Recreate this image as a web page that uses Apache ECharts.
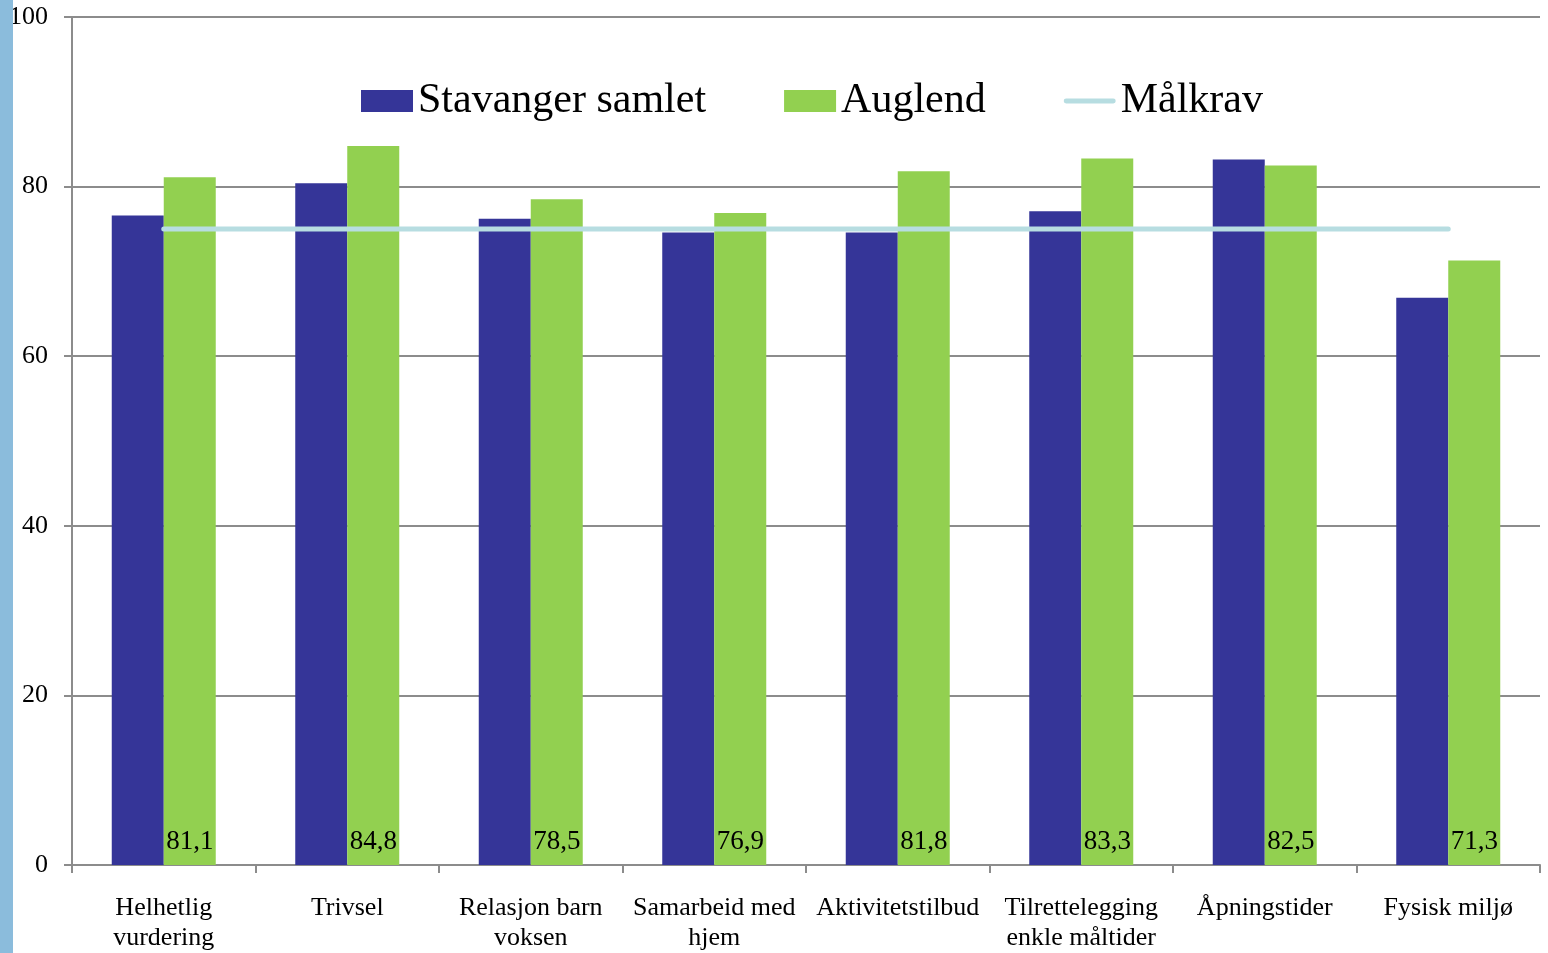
<!DOCTYPE html>
<html>
<head>
<meta charset="utf-8">
<script src="https://cdn.jsdelivr.net/npm/echarts@6/dist/echarts.min.js"></script>
<style>
html,body{margin:0;padding:0;background:#fff;}
#chart{width:1548px;height:953px;}
</style>
</head>
<body>
<div id="chart"></div>
<script>
const categories = ["Helhetlig\nvurdering", "Trivsel", "Relasjon barn\nvoksen", "Samarbeid med\nhjem", "Aktivitetstilbud", "Tilrettelegging\nenkle måltider", "Åpningstider", "Fysisk miljø"];
const stavanger = [76.6, 80.4, 76.2, 74.6, 74.6, 77.1, 83.2, 66.9];
const auglend = [81.1, 84.8, 78.5, 76.9, 81.8, 83.3, 82.5, 71.3];
const malkrav = [75, 75, 75, 75, 75, 75, 75, 75];
const yTicks = { min: 0, max: 100, interval: 20 };

const FONT = '"Liberation Serif", "Times New Roman", serif';
const chart = echarts.init(document.getElementById('chart'), null, { renderer: 'canvas' });
chart.setOption({
  animation: false,
  backgroundColor: '#ffffff',
  textStyle: { fontFamily: FONT },
  graphic: [{
    type: 'rect', left: 0, top: 0, z: 100,
    shape: { x: 0, y: 0, width: 13, height: 953 },
    style: { fill: '#8bbcdc' }
  }],
  legend: {
    top: 75,
    left: 356,
    itemGap: 78,
    itemWidth: 52,
    itemHeight: 22,
    textStyle: { fontFamily: FONT, fontSize: 42, color: '#000' },
    data: [
      { name: 'Stavanger samlet', icon: 'rect' },
      { name: 'Auglend', icon: 'rect' },
      { name: 'Målkrav', icon: 'path://M2,0 L50,0 A2.5,2.5 0 0 1 50,5 L2,5 A2.5,2.5 0 0 1 2,0 Z' }
    ]
  },
  grid: { left: 72, right: 8, top: 17, bottom: 87, containLabel: false },
  xAxis: {
    type: 'category',
    data: categories,
    boundaryGap: true,
    axisLine: { show: true, lineStyle: { color: '#8c8c8c', width: 2 } },
    axisTick: { show: true, length: 8, lineStyle: { color: '#8c8c8c', width: 2 }, alignWithLabel: false },
    axisLabel: { fontFamily: FONT, fontSize: 26, color: '#000', lineHeight: 30, margin: 28, interval: 0 }
  },
  yAxis: {
    type: 'value',
    min: yTicks.min, max: yTicks.max, interval: yTicks.interval,
    axisLine: { show: true, lineStyle: { color: '#8c8c8c', width: 2 } },
    axisTick: { show: true, length: 8, lineStyle: { color: '#8c8c8c', width: 2 } },
    splitLine: { show: true, lineStyle: { color: '#8c8c8c', width: 2 } },
    axisLabel: { fontFamily: FONT, fontSize: 26, color: '#000', margin: 24 }
  },
  series: [
    {
      name: 'Stavanger samlet', type: 'bar', data: stavanger,
      barWidth: 52, barGap: '0%',
      itemStyle: { color: '#353598' }
    },
    {
      name: 'Auglend', type: 'bar', data: auglend,
      barWidth: 52,
      itemStyle: { color: '#92d050' },
      label: {
        show: true, position: 'insideBottom', distance: 10,
        fontFamily: FONT, fontSize: 27, color: '#000',
        formatter: p => String(p.value).replace('.', ',')
      }
    },
    {
      name: 'Målkrav', type: 'line', data: malkrav,
      symbol: 'none', showSymbol: false,
      lineStyle: { color: '#b7dde1', width: 5, cap: 'round' },
      itemStyle: { color: '#b7dde1' },
      z: 5
    }
  ]
});
</script>
</body>
</html>
